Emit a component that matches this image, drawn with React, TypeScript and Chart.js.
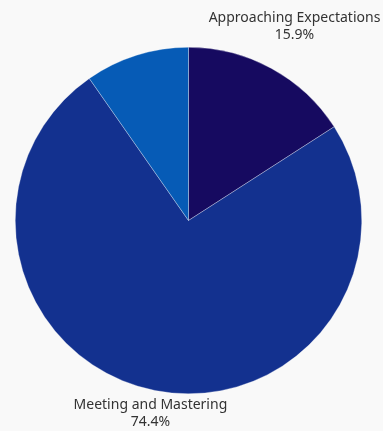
import React, { useEffect, useRef } from "react";
import { Chart, registerables } from "chart.js";

Chart.register(...registerables);

const categories = ["Approaching Expectations", "Meeting and Mastering", "Other"];
const values = [15.9, 74.4, 9.7];
const valueLabels = ["15.9%", "74.4%", ""];
const showLabel = [true, true, false];
const colors = ["#160a60", "#13318f", "#065bb6"];

const labelPlugin = {
  id: "outerLabels",
  afterDatasetsDraw(chart: any) {
    const { ctx } = chart;
    const meta = chart.getDatasetMeta(0);
    ctx.save();
    ctx.font = '14px "Noto Sans", sans-serif';
    ctx.fillStyle = "#333333";
    ctx.textAlign = "center";
    ctx.textBaseline = "middle";
    const lineH = 17;
    meta.data.forEach((arc: any, i: number) => {
      if (!showLabel[i]) return;
      const { x, y, startAngle, endAngle, outerRadius } = arc.getProps(
        ["x", "y", "startAngle", "endAngle", "outerRadius"],
        true
      );
      const mid = (startAngle + endAngle) / 2;
      const dx = Math.cos(mid);
      const dy = Math.sin(mid);
      const lines = [categories[i], valueLabels[i]];
      const w = Math.max(...lines.map((l) => ctx.measureText(l).width));
      const h = lineH * lines.length;
      const ext = Math.abs((w / 2) * dx) + Math.abs((h / 2) * dy);
      const r = outerRadius - 8 + ext;
      const cx = x + r * dx;
      const cy = y + r * dy;
      lines.forEach((l, j) => {
        ctx.fillText(l, cx, cy - h / 2 + lineH * (j + 0.5));
      });
    });
    ctx.restore();
  },
};

export default function App() {
  const ref = useRef<HTMLCanvasElement>(null);
  useEffect(() => {
    document.body.style.margin = "0";
    document.body.style.background = "#f9f9f9";
    const chart = new Chart(ref.current!, {
      type: "pie",
      data: {
        labels: categories,
        datasets: [
          {
            data: values,
            backgroundColor: colors,
            borderColor: "rgba(255,255,255,0.6)",
            borderWidth: 0.5,
          },
        ],
      },
      options: {
        animation: false,
        responsive: false,
        layout: { padding: { left: 15, right: 21, top: 47, bottom: 37 } },
        plugins: {
          legend: { display: false },
          tooltip: { enabled: false },
        },
      },
      plugins: [labelPlugin],
    });
    return () => chart.destroy();
  }, []);
  return (
    <div style={{ width: 383, height: 431, background: "#f9f9f9" }}>
      <canvas ref={ref} width={383} height={431} style={{ display: "block" }} />
    </div>
  );
}
